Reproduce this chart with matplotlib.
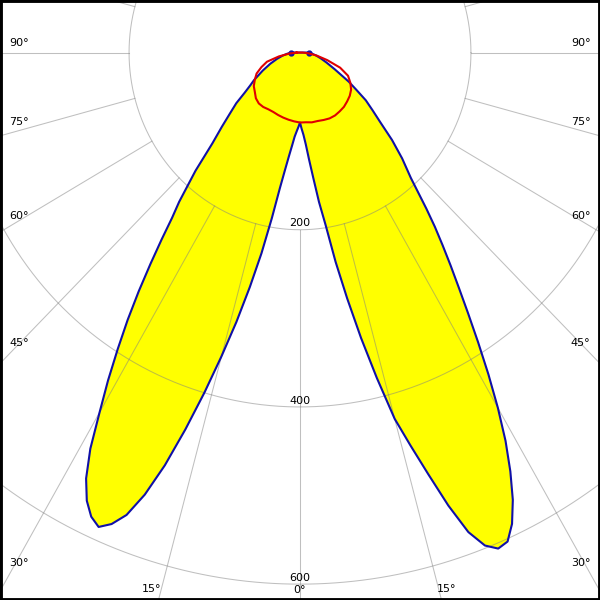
import numpy as np
import matplotlib
matplotlib.use("Agg")
import matplotlib.pyplot as plt

# Gamma angles (deg from nadir) for the C0/C180 plane
gamma_c0 = [0, 1.25, 2.5, 3.75, 5, 6.25, 7.5, 8.75, 10, 11.25, 12.5, 13.75,
            15, 16.25, 17.5, 18.75, 20, 21.25, 22.5, 23.75, 25, 26.25, 27.5,
            28.75, 30, 31.25, 32.5, 33.75, 35, 36.25, 37.5, 38.75, 40, 42.5,
            45, 47.5, 50, 52.5, 55, 57.5, 60, 65, 70, 75, 80, 85, 90]
# intensities (cd/klm), left half (C180) and right half (C0)
i_c180 = [79, 84, 89, 95, 105, 117, 133, 155, 190, 231, 271, 313,
          355, 400, 446, 492, 531, 560, 576, 585, 578, 564, 542,
          510, 469, 433, 397, 363, 329, 296, 266, 239, 220, 181,
          145, 124, 107, 94, 79, 69, 62, 48, 37, 28, 21, 15, 10]
i_c0 = [79, 86, 93, 104, 121, 142, 170, 197, 240, 283, 330, 378,
        428, 462, 499, 540, 576, 597, 606, 603, 587, 563, 533,
        500, 463, 425, 388, 354, 324, 298, 274, 252, 230, 192,
        169, 146, 123, 107, 94, 78, 66, 45, 33, 25, 19, 14, 10]

# C90/C270 plane
gamma_c90 = [0, 5, 10, 15, 20, 25, 30, 35, 40, 45, 50, 55, 60, 65, 70, 75,
             80, 85, 90]
i_c270 = [79, 78, 77, 76, 75, 74, 74, 75, 75, 73, 69, 66, 61, 56, 48, 40,
          25, 12, 4]
i_c90 = [79, 79, 80, 80, 81, 82, 82, 81, 80, 78, 76, 73, 68, 62, 50, 33,
         20, 10, 3]

ring_values = [200, 400, 600]
spoke_step = 15


def polar_xy(gamma_deg, values):
    g = np.radians(gamma_deg)
    v = np.asarray(values, dtype=float)
    return v * np.sin(g), -v * np.cos(g)


fig = plt.figure(figsize=(6, 6), dpi=100)
ax = fig.add_axes([0, 0, 1, 1])
ax.set_xlim(-351, 351)
ax.set_ylim(-617.9, 59.3)
ax.set_xticks([])
ax.set_yticks([])
for sp in ax.spines.values():
    sp.set_linewidth(3.5)
    sp.set_color("black")

# C0/C180 curve, closed through the centre
g_blue = np.concatenate([-np.array(gamma_c0[::-1]), np.array(gamma_c0[1:])])
v_blue = np.concatenate([np.array(i_c180[::-1]), np.array(i_c0[1:])])
bx, by = polar_xy(g_blue, v_blue)
ax.fill(bx, by, color="#ffff00", zorder=1, lw=0)

# grid
t = np.linspace(0, 2 * np.pi, 721)
for rv in ring_values:
    ax.plot(rv * np.cos(t), rv * np.sin(t), color="#808080", alpha=0.5,
            lw=0.75, zorder=2)
for a in range(-180, 181, spoke_step):
    sx, sy = polar_xy([a, a], [ring_values[0], 1000])
    ax.plot(sx, sy, color="#808080", alpha=0.5, lw=0.75, zorder=2)

ax.plot(np.append(bx, bx[0]), np.append(by, by[0]), color="#1010a8",
        lw=1.5, zorder=3)
ax.plot(bx[[0, -1]], by[[0, -1]], "o", color="#1010a8", ms=3.5, zorder=3)

# C90/C270 curve
g_red = np.concatenate([-np.array(gamma_c90[::-1]), np.array(gamma_c90[1:])])
v_red = np.concatenate([np.array(i_c270[::-1]), np.array(i_c90[1:])])
rx, ry = polar_xy(g_red, v_red)
ax.plot(np.append(rx, rx[0]), np.append(ry, ry[0]), color="#e00000",
        lw=1.5, zorder=4)

# ring labels
for rv in ring_values:
    ax.annotate(str(rv), (0, -rv), xytext=(0, 4.5), textcoords="offset points",
                ha="center", va="center", fontsize=8)
ax.annotate("0°", (0, -ring_values[-1]), xytext=(0, -4), textcoords="offset points",
            ha="center", va="center", fontsize=8)

# angle labels at the frame
side_labels = ["90°", "75°", "60°", "45°", "30°"]
side_y = [0.929, 0.796, 0.640, 0.429, 0.061]
for lab, yy in zip(side_labels, side_y):
    ax.text(0.0155, yy, lab, transform=ax.transAxes, ha="left", va="center",
            fontsize=8)
    ax.text(0.984, yy, lab, transform=ax.transAxes, ha="right", va="center",
            fontsize=8)
ax.text(0.252, 0.019, "15°", transform=ax.transAxes, ha="center", va="center",
        fontsize=8)
ax.text(0.745, 0.019, "15°", transform=ax.transAxes, ha="center", va="center",
        fontsize=8)

fig.savefig("out.png", dpi=100)
